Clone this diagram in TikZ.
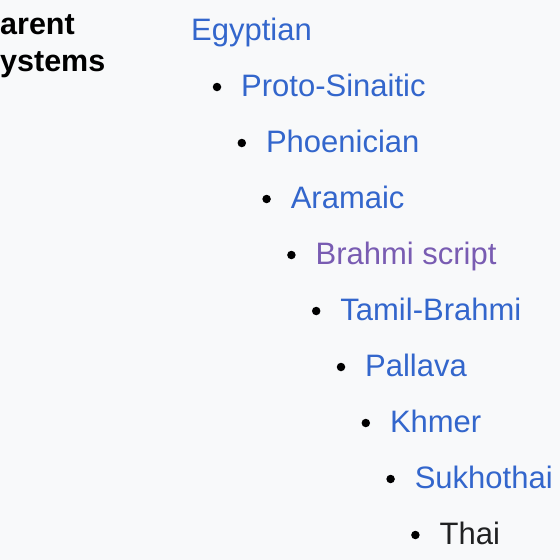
\documentclass[tikz,border=0pt]{standalone}
\usepackage{fontspec}
\setmainfont{Liberation Sans}
\usetikzlibrary{positioning}

\definecolor{linkblue}{HTML}{3366CC}
\definecolor{linkvisited}{HTML}{795CB2}
\definecolor{plaintext}{HTML}{202122}
\definecolor{boxbg}{HTML}{F8F9FA}

\tikzset{
  entry/.style = {anchor=base west, inner sep=0pt, font=\fontsize{31}{36}\selectfont},
  head/.style  = {entry, text=black, font=\bfseries\fontsize{30.5}{36}\selectfont},
  dot/.style   = {circle, fill=black, inner sep=0pt, minimum size=8.5pt}
}

\begin{document}
\begin{tikzpicture}[x=1pt,y=1pt]

\fill[boxbg] (0,0) rectangle (560,-560);
\useasboundingbox (0,0) rectangle (560,-560);

\node[head] (h1) at (0,-34) {arent};
\node[head] (h2) at (0,-71) {ystems};

\node[entry, text=linkblue] (n0) at (191,-40) {Egyptian};

\foreach \i/\name/\col in {1/Proto-Sinaitic/linkblue, 2/Phoenician/linkblue,
    3/Aramaic/linkblue, 4/Brahmi script/linkvisited, 5/Tamil-Brahmi/linkblue,
    6/Pallava/linkblue, 7/Khmer/linkblue, 8/Sukhothai/linkblue, 9/Thai/plaintext}
{
  \node[entry, text=\col] (n\i) at (216.2+24.8*\i,-40-56*\i) {\name};
  \node[dot] (d\i) at (192.2+24.8*\i,-40-56*\i+9) {};
}

\end{tikzpicture}
\end{document}
